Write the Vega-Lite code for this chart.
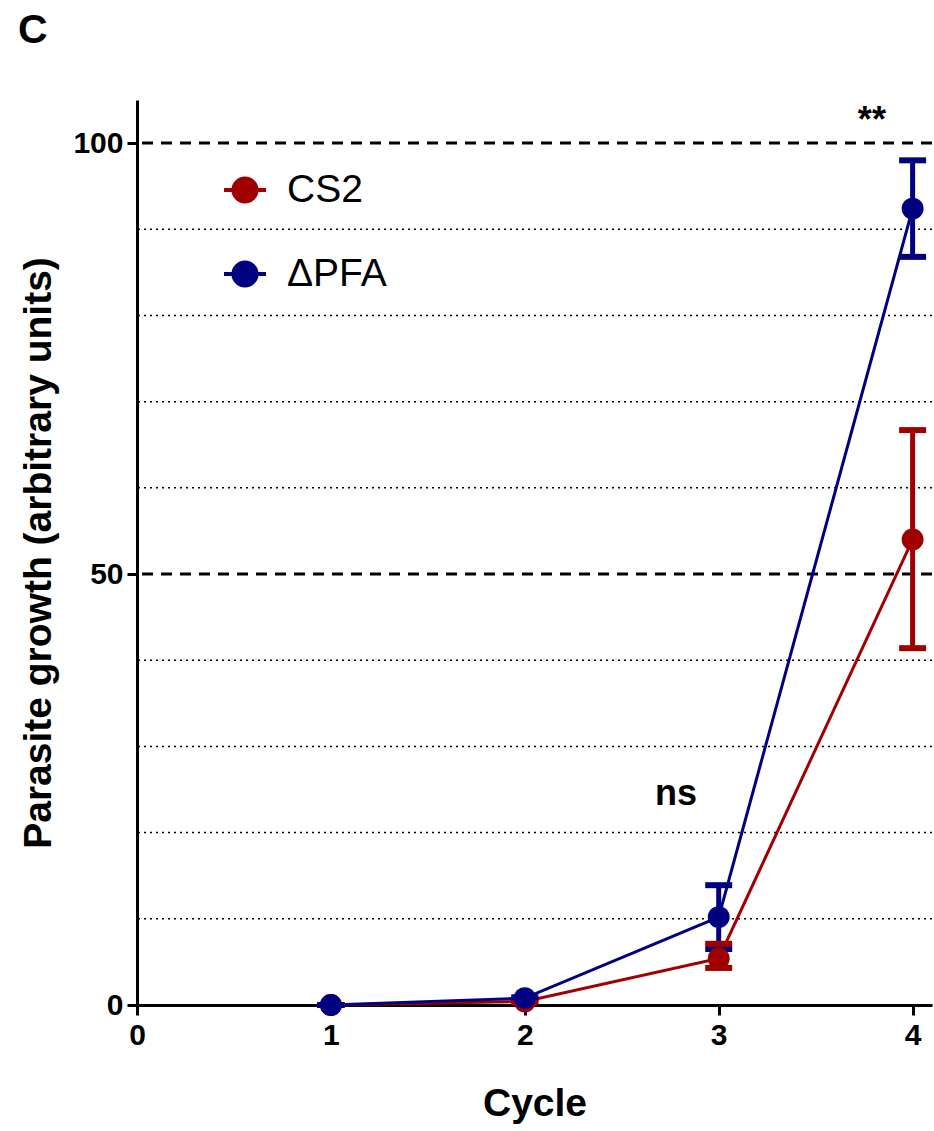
{
  "$schema": "https://vega.github.io/schema/vega-lite/v6.json",
  "width": 795,
  "height": 905,
  "autosize": {"type": "none"},
  "padding": {"left": 137, "top": 100, "right": 2, "bottom": 126},
  "background": "white",
  "config": {
    "font": "Liberation Sans",
    "view": {"stroke": null},
    "axis": {"grid": false, "domainColor": "black", "domainWidth": 3, "tickColor": "black", "tickWidth": 3, "tickSize": 10, "labelColor": "black", "labelFont": "Liberation Sans", "labelFontWeight": "bold", "labelFontSize": 30, "titleFont": "Liberation Sans", "titleFontWeight": "bold", "titleFontSize": 39, "titleColor": "black"}
  },
  "title": {"text": "C", "anchor": "start", "frame": "group", "fontSize": 41, "fontWeight": "bold", "font": "Liberation Sans", "color": "black", "dx": -119, "offset": 48},
  "datasets": {
    "series": [
      {"cycle": 1, "group": "CS2", "mean": 0.0, "lo": 0.0, "hi": 0.0},
      {"cycle": 2, "group": "CS2", "mean": 0.4, "lo": 0.3, "hi": 0.5},
      {"cycle": 3, "group": "CS2", "mean": 5.4, "lo": 4.3, "hi": 7.1},
      {"cycle": 4, "group": "CS2", "mean": 54.0, "lo": 41.4, "hi": 66.7},
      {"cycle": 1, "group": "ΔPFA", "mean": 0.0, "lo": 0.0, "hi": 0.0},
      {"cycle": 2, "group": "ΔPFA", "mean": 0.8, "lo": 0.7, "hi": 0.9},
      {"cycle": 3, "group": "ΔPFA", "mean": 10.2, "lo": 6.5, "hi": 13.9},
      {"cycle": 4, "group": "ΔPFA", "mean": 92.4, "lo": 86.8, "hi": 98.0}
    ],
    "grid": [
      {"v": 10, "kind": "dot"}, {"v": 20, "kind": "dot"}, {"v": 30, "kind": "dot"}, {"v": 40, "kind": "dot"},
      {"v": 60, "kind": "dot"}, {"v": 70, "kind": "dot"}, {"v": 80, "kind": "dot"}, {"v": 90, "kind": "dot"},
      {"v": 50, "kind": "dash"}, {"v": 100, "kind": "dash"}
    ],
    "notes": [
      {"x": 3.79, "y": 102.6, "label": "**"},
      {"x": 2.78, "y": 24.5, "label": "ns"}
    ]
  },
  "layer": [
    {
      "data": {"name": "grid"},
      "transform": [{"filter": "datum.kind == 'dot'"}],
      "mark": {"type": "rule", "color": "black", "strokeWidth": 1.5, "strokeDash": [2, 4]},
      "encoding": {"y": {"field": "v", "type": "quantitative", "scale": {"domain": [0, 105]}}}
    },
    {
      "data": {"name": "grid"},
      "transform": [{"filter": "datum.kind == 'dash'"}],
      "mark": {"type": "rule", "color": "black", "strokeWidth": 3, "strokeDash": [11, 8]},
      "encoding": {"y": {"field": "v", "type": "quantitative"}}
    },
    {
      "data": {"name": "series"},
      "mark": {"type": "line", "strokeWidth": 3},
      "encoding": {
        "x": {"field": "cycle", "type": "quantitative", "scale": {"domain": [0, 4.1], "nice": false}, "axis": {"values": [0, 1, 2, 3, 4], "format": "d", "labelFlush": false, "title": "Cycle", "titlePadding": 34, "labelPadding": 5}},
        "y": {"field": "mean", "type": "quantitative", "scale": {"domain": [0, 105], "nice": false}, "axis": {"values": [0, 50, 100], "labelFlush": false, "title": "Parasite growth (arbitrary units)", "titlePadding": 14, "labelPadding": 4}},
        "color": {"field": "group", "type": "nominal", "scale": {"domain": ["CS2", "ΔPFA"], "range": ["#a00000", "#000080"]},
          "legend": {"orient": "none", "legendX": 85, "legendY": 67, "title": null, "padding": 0, "symbolType": "M-1,0L1,0M-0.55,0A0.55,0.55 0 1,1 0.55,0A0.55,0.55 0 1,1 -0.55,0Z", "symbolSize": 1764, "symbolStrokeWidth": 4, "symbolOpacity": 1, "labelFontSize": 39, "labelFont": "Liberation Sans", "labelColor": "black", "labelOffset": 19, "rowPadding": 41, "labelFontWeight": "normal"}},
        "detail": {"field": "group"}
      }
    },
    {
      "data": {"name": "series"},
      "mark": {"type": "rule", "strokeWidth": 5},
      "encoding": {
        "x": {"field": "cycle", "type": "quantitative"},
        "y": {"field": "lo", "type": "quantitative"},
        "y2": {"field": "hi"},
        "color": {"field": "group", "type": "nominal", "legend": null}
      }
    },
    {
      "data": {"name": "series"},
      "mark": {"type": "tick", "orient": "horizontal", "size": 27, "thickness": 6, "opacity": 1},
      "encoding": {
        "x": {"field": "cycle", "type": "quantitative"},
        "y": {"field": "lo", "type": "quantitative"},
        "color": {"field": "group", "type": "nominal", "legend": null}
      }
    },
    {
      "data": {"name": "series"},
      "mark": {"type": "tick", "orient": "horizontal", "size": 27, "thickness": 6, "opacity": 1},
      "encoding": {
        "x": {"field": "cycle", "type": "quantitative"},
        "y": {"field": "hi", "type": "quantitative"},
        "color": {"field": "group", "type": "nominal", "legend": null}
      }
    },
    {
      "data": {"name": "series"},
      "mark": {"type": "circle", "size": 480, "opacity": 1},
      "encoding": {
        "x": {"field": "cycle", "type": "quantitative"},
        "y": {"field": "mean", "type": "quantitative"},
        "color": {"field": "group", "type": "nominal", "legend": null}
      }
    },
    {
      "data": {"name": "notes"},
      "mark": {"type": "text", "fontSize": 36, "fontWeight": "bold", "font": "Liberation Sans", "color": "black", "baseline": "middle", "align": "center"},
      "encoding": {
        "x": {"field": "x", "type": "quantitative"},
        "y": {"field": "y", "type": "quantitative"},
        "text": {"field": "label"}
      }
    }
  ]
}
